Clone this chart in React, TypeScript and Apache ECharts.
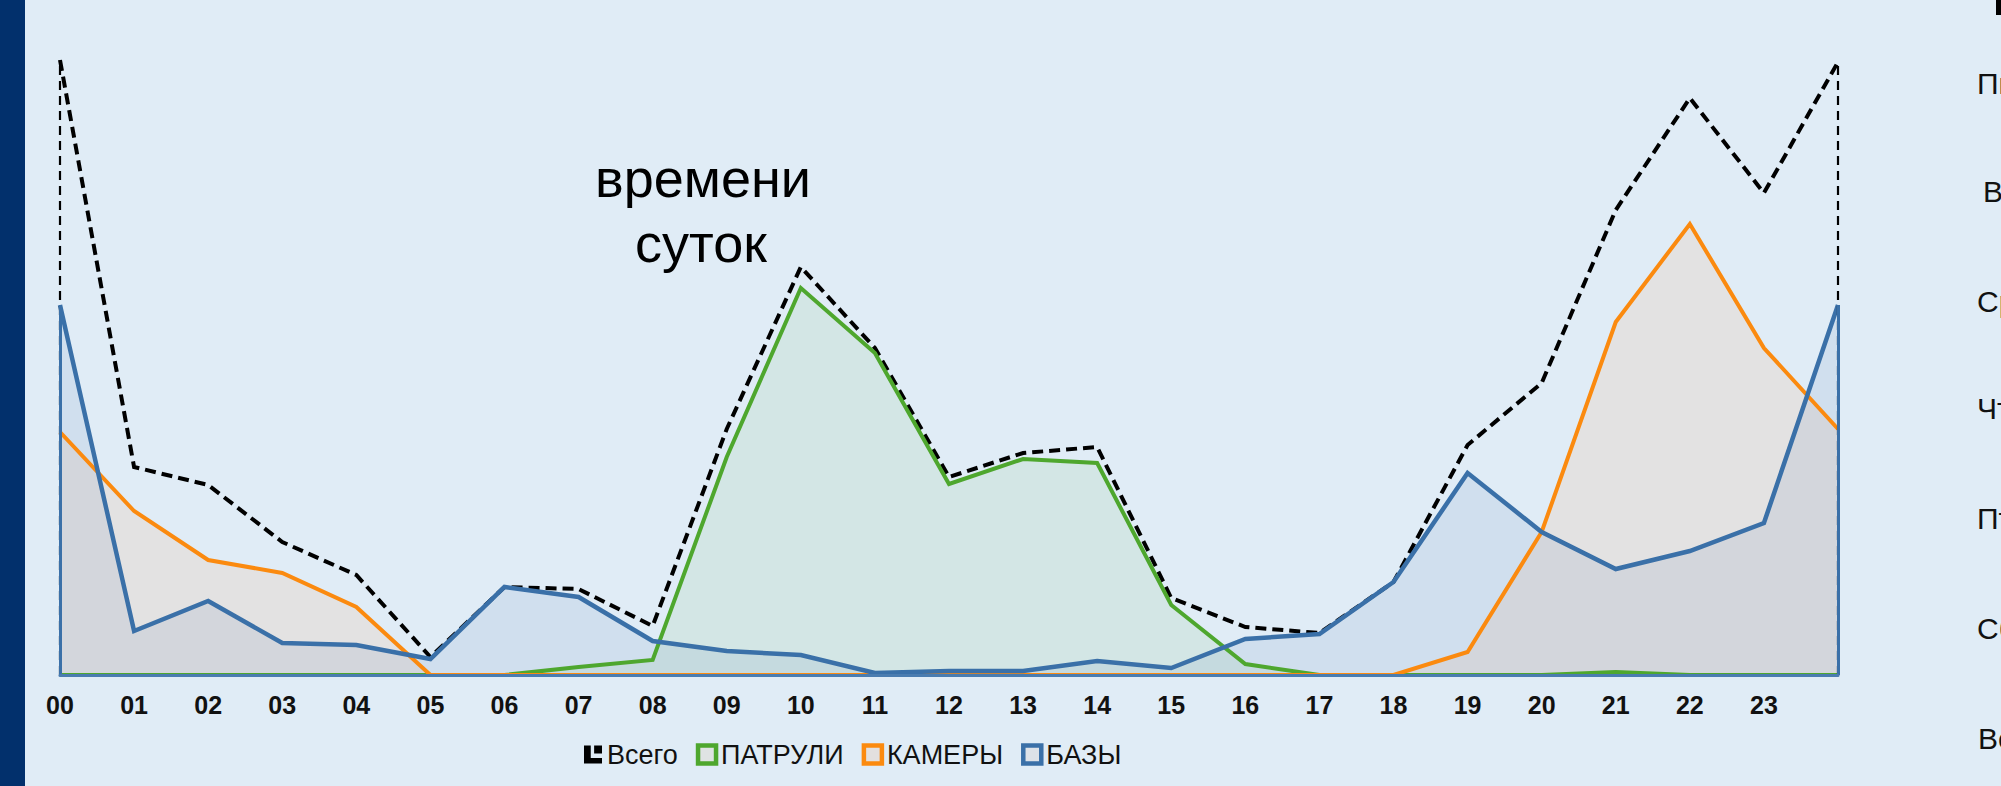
import React, { useEffect, useRef } from "react";
import * as echarts from "echarts";

const hours = ["00","01","02","03","04","05","06","07","08","09","10","11","12","13","14","15","16","17","18","19","20","21","22","23",""];
const total = [615,208,190,133,100,18,88,86,49,246,408,327,198,222,228,77,48,42,93,230,292,465,577,482,613];
const patrols = [0,0,0,0,0,0,0,8,15,218,387,322,191,216,212,70,11,0,0,0,0,3,0,0,0];
const cameras = [243,164,115,102,68,0,0,0,0,0,0,0,0,0,0,0,0,0,0,23,143,353,451,327,246];
const bases = [370,44,74,32,30,16,88,78,34,24,20,2,4,4,14,7,36,41,93,202,143,106,124,152,370];
const legendNames = ["Всего", "ПАТРУЛИ", "КАМЕРЫ", "БАЗЫ"];
const dayLabels = ["Пн", "Вт", "Ср", "Чт", "Пт", "Сб", "Вс"];
const titleLines = ["времени", "суток"];

const GREEN = "#4ea72e";
const ORANGE = "#fb8a0f";
const BLUE = "#3a70a8";
const BG = "#e0ecf6";
const FONT = "'Liberation Sans', Arial, Helvetica, sans-serif";

export default function App() {
  const ref = useRef<HTMLDivElement>(null);
  useEffect(() => {
    if (!ref.current) return;
    const chart = echarts.init(ref.current, null, { renderer: "svg" });
    const last = hours.length - 1;
    const edge = (vals: number[]) => [
      [{ coord: [0, 0] }, { coord: [0, vals[0]] }],
      [{ coord: [last, 0] }, { coord: [last, vals[last]] }],
    ];
    const area = (name: string, data: number[], color: string, fill: string, width: number) => ({
      type: "line",
      name,
      data,
      symbol: "none",
      showSymbol: false,
      lineStyle: { color, width, join: "miter" },
      itemStyle: { color },
      areaStyle: { color: fill, origin: "start" },
      emphasis: { disabled: true },
      silent: true,
    });
    const dayY = [83, 191, 301, 408, 518, 628, 738];
    const dayX = [1977, 1983, 1977, 1977, 1977, 1977, 1978];
    const option: any = {
      animation: false,
      backgroundColor: BG,
      grid: { left: 60, right: 163, top: 35, bottom: 111, containLabel: false },
      xAxis: {
        type: "category",
        data: hours,
        boundaryGap: false,
        z: 10,
        axisLine: { show: true, lineStyle: { color: "#4a7cb0", width: 3 } },
        axisTick: { show: false },
        axisLabel: {
          interval: 0,
          margin: 17,
          color: "#111",
          fontSize: 25,
          fontWeight: "bold",
          fontFamily: FONT,
        },
        splitLine: { show: false },
      },
      yAxis: { type: "value", min: 0, max: 640, show: false, splitLine: { show: false } },
      legend: {
        left: 579,
        top: 736,
        itemWidth: 18,
        itemHeight: 18,
        itemGap: 18,
        selectedMode: false,
        textStyle: { fontSize: 27, color: "#111", fontFamily: FONT },
        data: [
          { name: legendNames[0], icon: "path://M0,0H6V11H16V16H0Z M9,0H16V7H9Z", itemStyle: { color: "#000", borderWidth: 0 } },
          { name: legendNames[1], icon: "rect", itemStyle: { color: "#dfe3e3", borderColor: GREEN, borderWidth: 4.5 } },
          { name: legendNames[2], icon: "rect", itemStyle: { color: "#e3e0df", borderColor: ORANGE, borderWidth: 4.5 } },
          { name: legendNames[3], icon: "rect", itemStyle: { color: "#dde2e8", borderColor: BLUE, borderWidth: 4.5 } },
        ],
      },
      series: [
        {
          type: "line",
          name: legendNames[0],
          data: total,
          symbol: "none",
          showSymbol: false,
          silent: true,
          emphasis: { disabled: true },
          lineStyle: { color: "#000", width: 4, type: [11, 6], join: "miter" },
          itemStyle: { color: "#000" },
          markLine: {
            silent: true,
            symbol: ["none", "none"],
            label: { show: false },
            emphasis: { disabled: true },
            lineStyle: { color: "#000", width: 2.2, type: [9, 6] },
            data: edge(total),
          },
        },
        area(legendNames[1], patrols, GREEN, "rgba(78,167,46,0.12)", 4),
        area(legendNames[2], cameras, ORANGE, "rgba(255,140,60,0.15)", 4),
        {
          ...area(legendNames[3], bases, BLUE, "rgba(58,100,168,0.13)", 4.5),
          markLine: {
            silent: true,
            symbol: ["none", "none"],
            label: { show: false },
            emphasis: { disabled: true },
            lineStyle: { color: BLUE, width: 3, type: "solid" },
            data: edge(bases),
          },
        },
      ],
      graphic: [
        { type: "rect", left: 0, top: 0, shape: { x: 0, y: 0, width: 25, height: 786 }, style: { fill: "#02306c" }, silent: true },
        { type: "rect", shape: { x: 1996, y: 0, width: 5, height: 15 }, style: { fill: "#000" }, silent: true },
        ...titleLines.map((t, i) => ({
          type: "text",
          x: i === 0 ? 703 : 701,
          y: i === 0 ? 178 : 243,
          silent: true,
          style: { text: t, fill: "#000", font: `54px ${FONT}`, textAlign: "center", textVerticalAlign: "middle" },
        })),
        ...dayLabels.map((d, i) => ({
          type: "text",
          x: dayX[i],
          y: dayY[i],
          silent: true,
          style: { text: d, fill: "#111", font: `30px ${FONT}`, textAlign: "left", textVerticalAlign: "middle" },
        })),
      ],
    };
    chart.setOption(option);
    return () => chart.dispose();
  }, []);
  return (
    <div
      ref={ref}
      style={{ position: "fixed", left: 0, top: 0, width: 2001, height: 786, overflow: "hidden" }}
    />
  );
}
